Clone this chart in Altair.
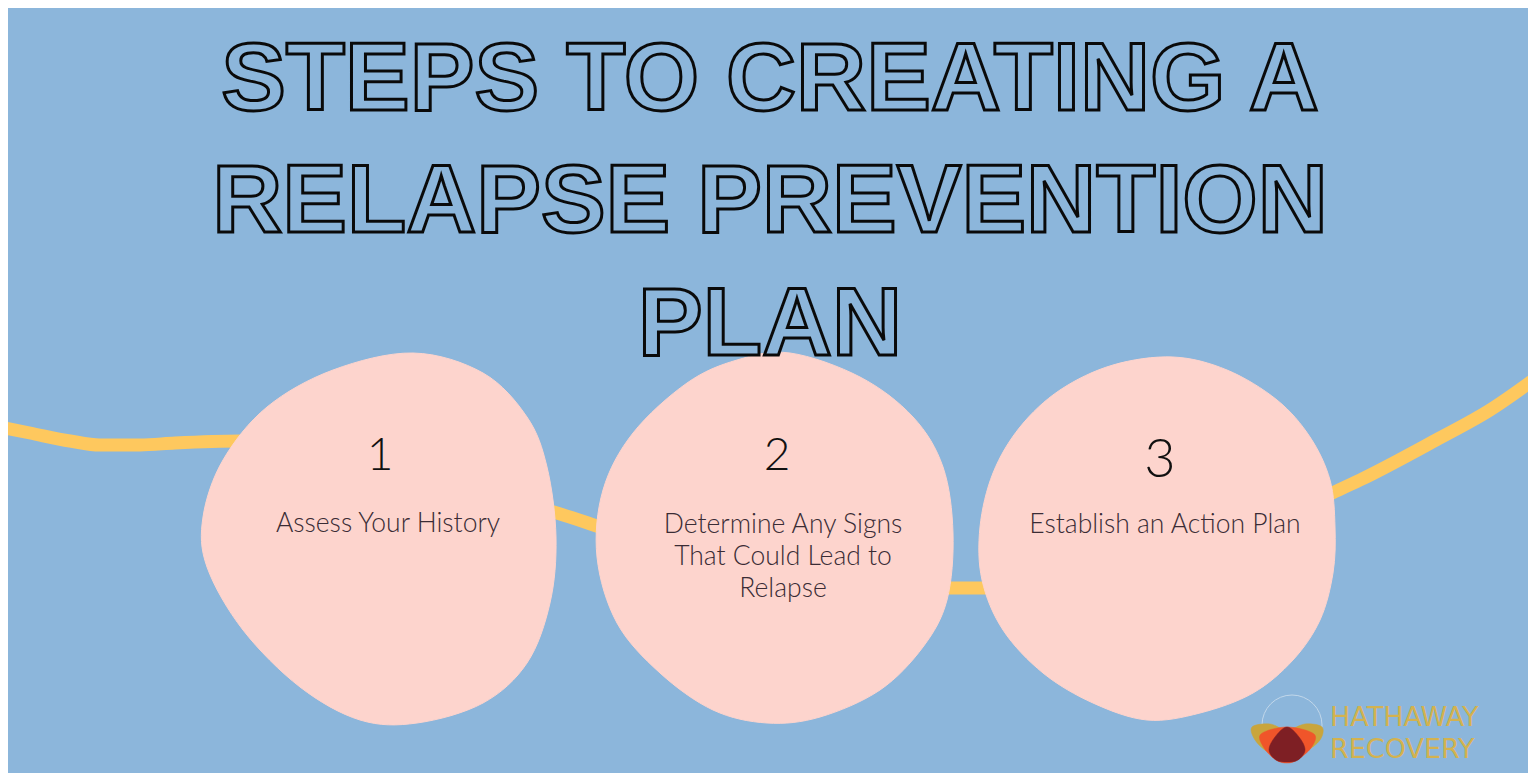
import altair as alt
import pandas as pd

BG = "#8CB6DB"
BLOB = "#FDD4CD"
YELLOW = "#FEC85E"
GOLD = "#D3B24F"

# ---- text content ----
title_lines = ["STEPS TO CREATING A", "RELAPSE PREVENTION", "PLAN"]
title_x = [770, 770, 770]
title_y = [110, 232, 355]

step_numbers = ["1", "2", "3"]
number_x = [380, 777, 1160]
number_y = [470, 470, 477]
number_size = [46, 46, 54]

step_labels = [
    "Assess Your History",
    "Determine Any Signs\nThat Could Lead to\nRelapse",
    "Establish an Action Plan",
]
label_x = [388, 783, 1165]
label_y = [532, 533, 533]

logo_words = ["HATHAWAY", "RECOVERY"]
logo_x = [1330, 1330]
logo_y = [726, 758]

# ---- yellow connecting path ----
path_x = [0, 30, 70, 100, 140, 175, 240, 300, 400, 500, 557, 600, 700, 800, 900,
          943, 993, 1100, 1250, 1332, 1360, 1436, 1490, 1536]
path_y = [427, 433, 441, 445, 445, 443, 441, 450, 475, 498, 513, 527, 560, 585, 590,
          588, 588, 585, 530, 493, 480, 440, 410, 378]

# ---- blob outlines ----
blob1_x = [413, 483, 527, 547, 556, 550, 527, 483, 417, 360, 300, 243, 207, 203, 223, 267, 333]
blob1_y = [353, 373, 417, 467, 537, 603, 663, 703, 723, 720, 687, 630, 567, 517, 460, 407, 370]
blob2_x = [790, 860, 913, 943, 953, 947, 923, 880, 820, 767, 713, 660, 617, 597, 603, 633, 687, 737]
blob2_y = [353, 377, 417, 467, 533, 600, 647, 690, 717, 723, 710, 673, 623, 557, 490, 433, 383, 360]
blob3_x = [1173, 1227, 1277, 1310, 1330, 1335, 1333, 1320, 1293, 1253, 1200, 1147, 1093, 1043,
           1003, 982, 980, 993, 1020, 1060, 1113]
blob3_y = [357, 370, 400, 437, 480, 527, 573, 620, 660, 693, 713, 720, 703, 673,
           630, 580, 527, 473, 427, 390, 365]

# ---- logo shapes ----
gold_x = [1252, 1270, 1287, 1305, 1322, 1320, 1305, 1287, 1268, 1255]
gold_y = [727, 724, 730, 724, 727, 740, 752, 758, 752, 740]
orange_x = [1261, 1287, 1314, 1311, 1297, 1287, 1276, 1264]
orange_y = [734, 727, 734, 748, 760, 763, 760, 748]
red_x = [1287, 1299, 1305, 1298, 1287, 1276, 1269, 1275]
red_y = [727, 737, 750, 760, 762, 760, 750, 737]
logo_ring = [(1292, 725)]

W, H = 1520, 765
xs = alt.Scale(domain=[8, 1528])
ys = alt.Scale(domain=[773, 8])


def X(f):
    return alt.X(f, type="quantitative", scale=xs, axis=None)


def Y(f):
    return alt.Y(f, type="quantitative", scale=ys, axis=None)


path_df = pd.DataFrame({"x": path_x, "y": path_y, "i": range(len(path_x))})

rows = []
for name, bx, by in [("b1", blob1_x, blob1_y), ("b2", blob2_x, blob2_y), ("b3", blob3_x, blob3_y)]:
    for i, (a, b) in enumerate(zip(bx, by)):
        rows.append({"blob": name, "i": i, "x": a, "y": b})
blob_df = pd.DataFrame(rows)

lrows = []
for name, col, bx, by in [("gold", "#C9A53C", gold_x, gold_y),
                          ("orange", "#F0552A", orange_x, orange_y),
                          ("red", "#7E1F24", red_x, red_y)]:
    for i, (a, b) in enumerate(zip(bx, by)):
        lrows.append({"shape": name, "col": col, "i": i, "x": a, "y": b})
logo_df = pd.DataFrame(lrows)

title_df = pd.DataFrame({"t": title_lines, "x": title_x, "y": title_y})
num_df = pd.DataFrame({"t": step_numbers, "x": number_x, "y": number_y, "s": number_size})
lab_df = pd.DataFrame({"t": step_labels, "x": label_x, "y": label_y})
word_df = pd.DataFrame({"t": logo_words, "x": logo_x, "y": logo_y})
ring_df = pd.DataFrame({"x": [p[0] for p in logo_ring], "y": [p[1] for p in logo_ring]})

path_layer = alt.Chart(path_df).mark_line(
    color=YELLOW, strokeWidth=13, interpolate="monotone", strokeCap="butt"
).encode(x=X("x"), y=Y("y"), order="i:Q")

blob_layer = alt.Chart(blob_df).mark_line(
    interpolate="cardinal-closed", fill=BLOB, stroke=BLOB, strokeWidth=1
).encode(x=X("x"), y=Y("y"), detail="blob:N", order="i:Q")

title_layer = alt.Chart(title_df).mark_text(
    font="Liberation Sans", fontWeight="bold", fontSize=97, fill=BG,
    stroke="#0a0a0a", strokeWidth=3, align="center", baseline="alphabetic"
).encode(x=X("x"), y=Y("y"), text="t:N")

num_layer = alt.Chart(num_df).mark_text(
    font="Lato", fontWeight=300, color="#111111", align="center", baseline="alphabetic"
).encode(x=X("x"), y=Y("y"), text="t:N", size=alt.Size("s:Q", scale=None, legend=None))

lab_layer = alt.Chart(lab_df).mark_text(
    font="Lato", fontWeight=300, fontSize=26.5, color="#3a2c35", align="center",
    baseline="alphabetic", lineBreak="\n", lineHeight=32
).encode(x=X("x"), y=Y("y"), text="t:N")

ring_layer = alt.Chart(ring_df).mark_point(
    shape="circle", size=3600, filled=False, stroke="#E6EEF5", strokeWidth=1, opacity=0.6
).encode(x=X("x"), y=Y("y"))

logo_layer = alt.Chart(logo_df).mark_line(
    interpolate="cardinal-closed", strokeWidth=0.5
).encode(
    x=X("x"), y=Y("y"), detail="shape:N", order="i:Q",
    fill=alt.Fill("col:N", scale=None), color=alt.Color("col:N", scale=None)
)

word_layer = alt.Chart(word_df).mark_text(
    font="DejaVu Sans", fontSize=27, color=GOLD, align="left", baseline="alphabetic"
).encode(x=X("x"), y=Y("y"), text="t:N")

chart = alt.layer(
    path_layer, blob_layer, title_layer, num_layer, lab_layer,
    ring_layer, logo_layer, word_layer
).properties(
    width=W, height=H, background=BG, padding=0, autosize="none"
).configure_view(strokeWidth=0)

chart.save("out.html", embed_options={"renderer": "svg", "actions": False})
